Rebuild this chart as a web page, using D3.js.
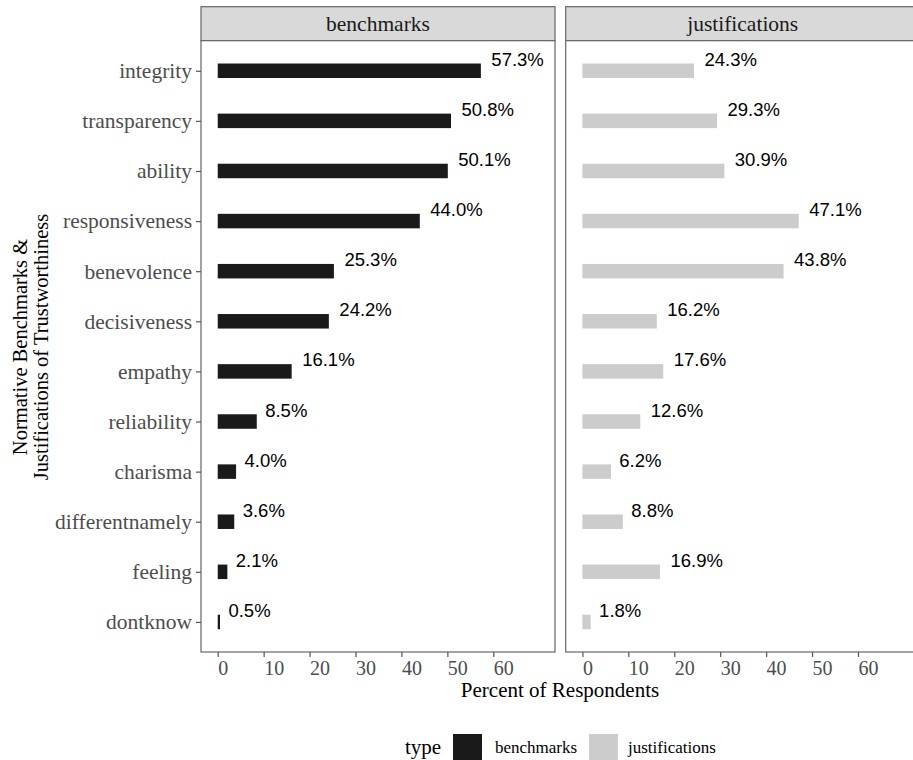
<!DOCTYPE html>
<html><head><meta charset="utf-8">
<script src="https://cdn.jsdelivr.net/npm/d3@7"></script>
<style>body{margin:0;background:#fff}svg{display:block}</style>
</head><body>
<script>
const categories = ["integrity","transparency","ability","responsiveness","benevolence","decisiveness","empathy","reliability","charisma","differentnamely","feeling","dontknow"];
const benchmarks = [57.3,50.8,50.1,44.0,25.3,24.2,16.1,8.5,4.0,3.6,2.1,0.5];
const justifications = [24.3,29.3,30.9,47.1,43.8,16.2,17.6,12.6,6.2,8.8,16.9,1.8];
const panels = ["benchmarks","justifications"];
const xTicks = [0,10,20,30,40,50,60];
const colors = {benchmarks:"#1a1a1a", justifications:"#cccccc"};

(function(){
const W=913,H=760;
const serif = "'Liberation Serif', 'Times New Roman', serif";
const sans = "'Liberation Sans', Arial, sans-serif";
const svg = d3.select("body").append("svg").attr("width",W).attr("height",H);

const pTop=40.7, pBottom=652, stripTop=6.7;
const panelX=[[201,555],[565.7,919.7]];
const y = d3.scalePoint().domain(categories).range([pTop,pBottom]).padding(0.6);
const barH = 14.5;
const seriesData = {benchmarks, justifications};

panels.forEach((p,pi)=>{
  const [x0,x1]=panelX[pi];
  const x = d3.scaleLinear().domain([-3.64,73.44]).range([x0,x1]);
  const g = svg.append("g");
  g.append("rect").attr("x",x0).attr("y",stripTop).attr("width",x1-x0).attr("height",pTop-stripTop)
    .attr("fill","#d9d9d9").attr("stroke","#666").attr("stroke-width",1.2);
  g.append("text").attr("x",(x0+x1)/2).attr("y",30.7).attr("text-anchor","middle")
    .attr("font-family",serif).attr("font-size",21.5).attr("fill","#1a1a1a").text(p);
  g.append("rect").attr("x",x0).attr("y",pTop).attr("width",x1-x0).attr("height",pBottom-pTop)
    .attr("fill","#fff").attr("stroke","#666").attr("stroke-width",1.2);
  const vals = seriesData[p];
  const data = categories.map((c,i)=>({c,v:vals[i]}));
  g.selectAll("rect.bar").data(data).join("rect").attr("class","bar")
    .attr("x",x(0)).attr("y",d=>y(d.c)-barH/2).attr("width",d=>x(d.v)-x(0)).attr("height",barH)
    .attr("fill",colors[p]);
  const lbl = g.selectAll("text.lbl").data(data).join("text").attr("class","lbl")
    .attr("y",d=>y(d.c)-5).attr("font-family",sans).attr("font-size",18.5).attr("fill","#000")
    .text(d=>d.v.toFixed(1)+"%");
  lbl.attr("x",function(d){const w=this.getComputedTextLength();return x(d.v)+0.2*w;});
  const ax = g.append("g").attr("transform",`translate(0,${pBottom})`)
    .call(d3.axisBottom(x).tickValues(xTicks).tickSize(5).tickPadding(4));
  ax.select(".domain").remove();
  ax.selectAll(".tick line").attr("stroke","#555").attr("stroke-width",1.2);
  ax.selectAll(".tick text").attr("font-family",serif).attr("font-size",20).attr("fill","#4d4d4d")
    .attr("text-anchor","start").attr("x",0).attr("dy",null).attr("y",23);
});

const yax = svg.append("g").attr("transform",`translate(${panelX[0][0]},0)`)
  .call(d3.axisLeft(y).tickSize(5).tickPadding(4));
yax.select(".domain").remove();
yax.selectAll(".tick line").attr("stroke","#555").attr("stroke-width",1.2);
yax.selectAll(".tick text").attr("font-family",serif).attr("font-size",21.5).attr("fill","#4d4d4d").attr("dy","0.32em");

svg.append("text").attr("x",560).attr("y",697).attr("text-anchor","middle")
  .attr("font-family",serif).attr("font-size",21).attr("fill","#000").text("Percent of Respondents");
const yt = svg.append("text").attr("transform","translate(0,347) rotate(-90)")
  .attr("text-anchor","middle").attr("font-family",serif).attr("font-size",20.5).attr("fill","#000");
yt.append("tspan").attr("x",0).attr("y",27).text("Normative Benchmarks &");
yt.append("tspan").attr("x",0).attr("y",48).text("Justifications of Trustworthiness");

const leg = svg.append("g");
leg.append("text").attr("x",405).attr("y",754).attr("font-family",serif).attr("font-size",21).attr("fill","#000").text("type");
const legItems=[{k:"benchmarks",kx:453,tx:495},{k:"justifications",kx:589,tx:628}];
legItems.forEach(it=>{
  leg.append("rect").attr("x",it.kx).attr("y",734).attr("width",29).attr("height",29).attr("fill",colors[it.k]);
  leg.append("text").attr("x",it.tx).attr("y",753).attr("font-family",serif).attr("font-size",17)
    .attr("fill","#000").text(it.k);
});
})();
</script>
</body></html>
